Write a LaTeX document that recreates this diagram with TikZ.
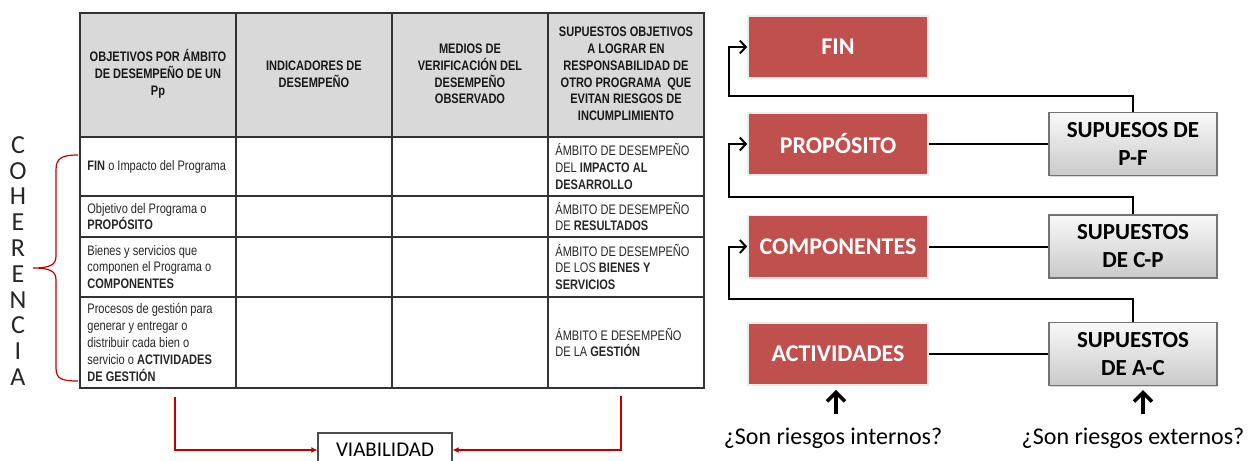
\documentclass[tikz,border=0pt]{standalone}
\usepackage{fontspec}
\setmainfont{Carlito}
\newfontfamily\tabfont[FakeStretch=0.8]{Liberation Sans}
\usetikzlibrary{arrows.meta,shadows}
\definecolor{boxred}{HTML}{C0504D}
\definecolor{linered}{HTML}{C00000}
\definecolor{headgray}{HTML}{D9D9D9}
\tikzset{
  tabline/.style={draw=black!80, line width=0.7pt},
  headtext/.style={font=\tabfont\fontsize{6.9}{8.4}\selectfont\bfseries, align=center, text=black!90, inner sep=0pt},
  celltext/.style={font=\tabfont\fontsize{6.9}{8.4}\selectfont, align=left, anchor=west, text=black!85, inner sep=0pt},
  nivel/.style={fill=boxred, draw=white!85!gray, line width=0.8pt, text=white, font=\fontsize{12}{14}\selectfont\bfseries,
    minimum width=90pt, minimum height=31pt, drop shadow={shadow xshift=0.7pt, shadow yshift=-0.7pt, opacity=0.3}},
  supuesto/.style={top color=gray!5, bottom color=gray!42, draw=black!55, line width=0.6pt, align=center,
    font=\fontsize{11.5}{14}\selectfont\bfseries, minimum width=84pt, minimum height=31.5pt,
    drop shadow={shadow xshift=0.7pt, shadow yshift=-0.7pt, opacity=0.3}},
  link/.style={line width=1pt},
  conn/.style={line width=1pt, -{Straight Barb[length=3pt,width=6.5pt]}},
  bigarrow/.style={line width=1.8pt, -{Straight Barb[length=4.5pt,width=9pt]}},
  redconn/.style={draw=linered, line width=0.6pt, -{Latex[length=3pt,width=3pt]}},
  viabbox/.style={draw=black!70, line width=0.6pt, fill=white, font=\fontsize{10.5}{12}\selectfont,
    minimum width=67pt, minimum height=17pt}
}
\begin{document}
\begin{tikzpicture}[x=0.5pt,y=-0.5pt]
\useasboundingbox (0,0) rectangle (1249,461);
\clip (0,0) rectangle (1249,461);
% table
\fill[headgray] (80,13) rectangle (704,137);
\draw[tabline] (80,13) rectangle (704,388);
\draw[tabline] (236,13)--(236,388); \draw[tabline] (392,13)--(392,388); \draw[tabline] (548,13)--(548,388);
\draw[tabline] (80,137)--(704,137); \draw[tabline] (80,196)--(704,196);
\draw[tabline] (80,237)--(704,237); \draw[tabline] (80,297)--(704,297);
\node[headtext] (h1) at (158,74) {OBJETIVOS POR ÁMBITO\\DE DESEMPEÑO DE UN\\Pp};
\node[headtext] (h2) at (314,74) {INDICADORES DE\\DESEMPEÑO};
\node[headtext] (h3) at (470,74) {MEDIOS DE\\VERIFICACIÓN DEL\\DESEMPEÑO\\OBSERVADO};
\node[headtext] (h4) at (626,74) {SUPUESTOS OBJETIVOS\\A LOGRAR EN\\RESPONSABILIDAD DE\\OTRO PROGRAMA\ \ QUE\\EVITAN RIESGOS DE\\INCUMPLIMIENTO};
\node[celltext] (f1) at (87,166.5) {\textbf{FIN} o Impacto del Programa};
\node[celltext] (f4) at (555,166.5) {ÁMBITO DE DESEMPEÑO\\DEL \textbf{IMPACTO AL}\\\textbf{DESARROLLO}};
\node[celltext] (p1) at (87,216.5) {Objetivo del Programa o\\\textbf{PROPÓSITO}};
\node[celltext] (p4) at (555,216.5) {ÁMBITO DE DESEMPEÑO\\DE \textbf{RESULTADOS}};
\node[celltext] (c1) at (87,267) {Bienes y servicios que\\componen el Programa o\\\textbf{COMPONENTES}};
\node[celltext] (c4) at (555,267) {ÁMBITO DE DESEMPEÑO\\DE LOS \textbf{BIENES Y}\\\textbf{SERVICIOS}};
\node[celltext] (a1) at (87,342.5) {Procesos de gestión para\\generar y entregar o\\distribuir cada bien o\\servicio o \textbf{ACTIVIDADES}\\\textbf{DE GESTIÓN}};
\node[celltext] (a4) at (555,342.5) {ÁMBITO E DESEMPEÑO\\DE LA \textbf{GESTIÓN}};
% coherencia
\node[align=center, font=\fontsize{13}{12.9}\selectfont, inner sep=0pt, text=black!85] (coh) at (18,261)
  {C\\O\\H\\E\\R\\E\\N\\C\\I\\A};
\draw[linered, line width=0.6pt] (78,155) .. controls (62,155) and (56,158) .. (56,170) -- (56,256)
  .. controls (56,265) and (50,268) .. (33,268) .. controls (50,268) and (56,271) .. (56,280)
  -- (56,368) .. controls (56,379) and (62,381) .. (78,381);
% viabilidad
\node[viabbox] (viab) at (385,450) {VIABILIDAD};
\coordinate (objs) at (175,397);
\coordinate (sups) at (621,396);
\draw[redconn] (objs) |- (viab.west);
\draw[redconn] (sups) |- (viab.east);
% niveles
\node[nivel] (fin) at (838,47) {FIN};
\node[nivel] (prop) at (838,144) {PROPÓSITO};
\node[nivel] (comp) at (838,246.5) {COMPONENTES};
\node[nivel] (act) at (838,354) {ACTIVIDADES};
\node[supuesto] (pf) at (1133,144) {SUPUESOS DE\\P-F};
\node[supuesto] (cp) at (1133,246.5) {SUPUESTOS\\DE C-P};
\node[supuesto] (ac) at (1133,354) {SUPUESTOS\\DE A-C};
\draw[link] (prop.east) -- (pf.west);
\draw[link] (comp.east) -- (cp.west);
\draw[link] (act.east) -- (ac.west);
\draw[conn] (pf.north) -- (1133,96) -- (729,96) |- (fin.west);
\draw[conn] (cp.north) -- (1133,197) -- (729,197) |- (prop.west);
\draw[conn] (ac.north) -- (1133,299) -- (729,299) |- (comp.west);
% preguntas
\node[font=\fontsize{12}{14}\selectfont, inner sep=0pt, anchor=base] (intq) at (833,444) {¿Son riesgos internos?};
\node[font=\fontsize{12}{14}\selectfont, inner sep=0pt, anchor=base] (extq) at (1133,444) {¿Son riesgos externos?};
\draw[bigarrow] ([xshift=1.5pt,yshift=6.5pt]intq.north) -- ([xshift=-1pt,yshift=-2pt]act.south);
\draw[bigarrow] ([xshift=5pt,yshift=6.5pt]extq.north) -- ([xshift=5pt,yshift=-2pt]ac.south);
\end{tikzpicture}
\end{document}
